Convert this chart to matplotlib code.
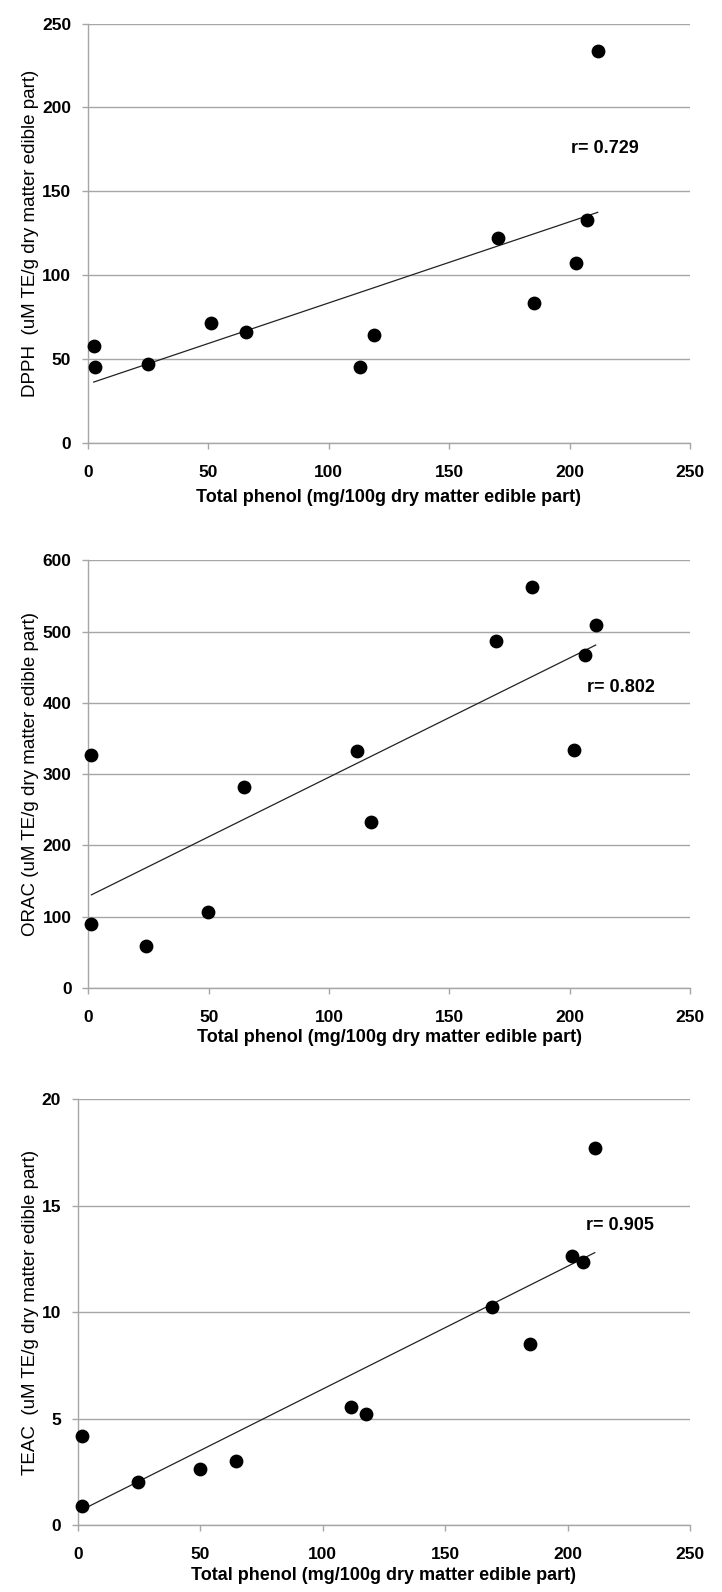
import numpy as np
import matplotlib
matplotlib.use("Agg")
import matplotlib.pyplot as plt

plt.rcParams['font.family'] = ['Liberation Sans', 'DejaVu Sans']

# Data (Total phenol, mg/100g dry matter edible part)
dpph_x = [2.5, 3.1, 25.2, 51.1, 65.6, 112.9, 118.8, 170.2, 185.2, 202.6, 207.2, 211.7]
dpph_y = [58.0, 45.7, 47.2, 71.8, 66.2, 45.7, 64.6, 122.0, 83.3, 107.3, 132.7, 233.8]

orac_x = [1.3, 1.3, 24.1, 49.9, 64.5, 111.5, 117.3, 169.3, 184.2, 202.0, 206.2, 210.8]
orac_y = [326.6, 89.5, 58.5, 106.5, 282.6, 331.9, 233.2, 486.3, 562.7, 333.4, 466.9, 509.0]

teac_x = [1.7, 1.7, 24.6, 49.8, 64.7, 111.7, 117.8, 169.1, 184.5, 201.8, 206.4, 211.1]
teac_y = [4.20, 0.92, 2.04, 2.62, 3.04, 5.53, 5.22, 10.22, 8.52, 12.64, 12.37, 17.70]

x_ticks = [0, 50, 100, 150, 200, 250]
dpph_ticks = [0, 50, 100, 150, 200, 250]
orac_ticks = [0, 100, 200, 300, 400, 500, 600]
teac_ticks = [0, 5, 10, 15, 20]

r_labels = ["r= 0.729", "r= 0.802", "r= 0.905"]
y_labels = ["DPPH  (uM TE/g dry matter edible part)",
            "ORAC (uM TE/g dry matter edible part)",
            "TEAC  (uM TE/g dry matter edible part)"]
x_label = "Total phenol (mg/100g dry matter edible part)"

W, H = 722, 1592
fig = plt.figure(figsize=(W / 100, H / 100), dpi=100)

def px_axes(left, right, top, bottom):
    return fig.add_axes([left / W, 1 - bottom / H, (right - left) / W, (bottom - top) / H])

panels = [
    dict(box=(87.7, 690, 23.5, 443.3), x=dpph_x, y=dpph_y, yt=dpph_ticks, r=r_labels[0],
         rpos=(200.5, 175.3), yl=y_labels[0], xl_y=498),
    dict(box=(88.3, 690, 560.3, 988), x=orac_x, y=orac_y, yt=orac_ticks, r=r_labels[1],
         rpos=(207.0, 421.5), yl=y_labels[1], xl_y=1037),
    dict(box=(77.7, 690, 1099, 1525.3), x=teac_x, y=teac_y, yt=teac_ticks, r=r_labels[2],
         rpos=(207.7, 14.07), yl=y_labels[2], xl_y=1575),
]

grid_c = '#a6a6a6'
for p in panels:
    l, r, t, b = p['box']
    ax = px_axes(l, r, t, b)
    ax.set_xlim(x_ticks[0], x_ticks[-1])
    ax.set_ylim(p['yt'][0], p['yt'][-1])
    ax.set_xticks(x_ticks)
    ax.set_yticks(p['yt'])
    ax.set_xticklabels([str(v) for v in x_ticks], fontsize=12.5, fontweight='bold')
    ax.set_yticklabels([str(v) for v in p['yt']], fontsize=12.5, fontweight='bold')
    ax.tick_params(axis='x', length=4, width=1, color=grid_c, pad=11.5)
    ax.tick_params(axis='y', length=4, width=1, color=grid_c, pad=8)
    for s in ['top', 'right']:
        ax.spines[s].set_visible(False)
    for s in ['left', 'bottom']:
        ax.spines[s].set_color(grid_c)
        ax.spines[s].set_linewidth(1)
    ax.yaxis.grid(True, color=grid_c, linewidth=1)
    ax.set_axisbelow(True)

    xs = np.array(p['x'])
    ys = np.array(p['y'])
    ax.scatter(xs, ys, s=80, color='black', zorder=3, clip_on=False)
    m, c = np.polyfit(xs, ys, 1)
    xx = np.array([xs.min(), xs.max()])
    ax.plot(xx, m * xx + c, color='#222222', linewidth=0.9, zorder=2)

    ax.text(p['rpos'][0], p['rpos'][1], p['r'], fontsize=13, fontweight='bold',
            ha='left', va='center')

    ax.set_ylabel(p['yl'], fontsize=13.5)
    ax.yaxis.set_label_coords(31 / W, 1 - ((t + b) / 2) / H, transform=fig.transFigure)
    ax.set_xlabel(x_label, fontsize=13, fontweight='bold')
    ax.xaxis.set_label_coords(((l + r) / 2) / W, 1 - p['xl_y'] / H, transform=fig.transFigure)
    ax.xaxis.label.set_va('center')
    ax.yaxis.label.set_va('center')

fig.savefig('out.png', dpi=100)
